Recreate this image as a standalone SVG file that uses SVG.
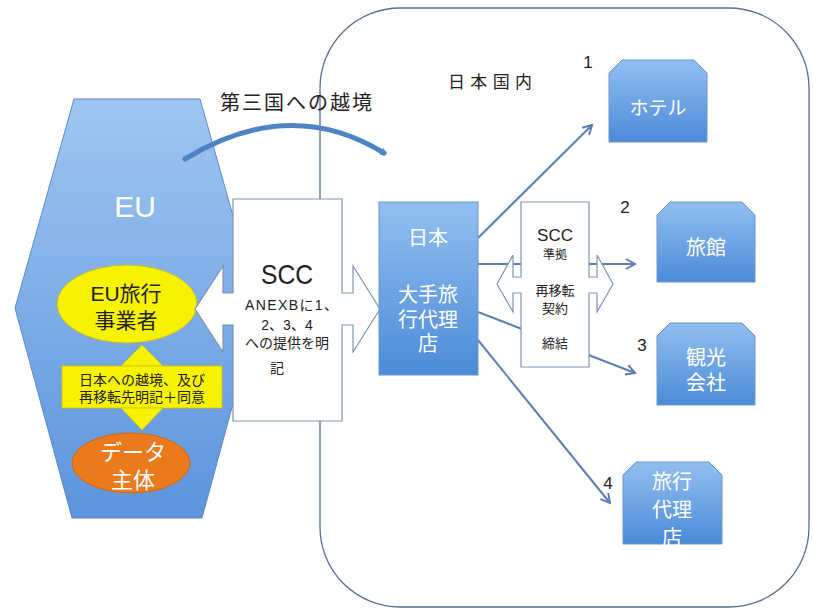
<svg xmlns="http://www.w3.org/2000/svg" width="813" height="612" viewBox="0 0 813 612">
<style>
text{font-family:'Liberation Sans','Noto Sans CJK JP',sans-serif;}
.w{fill:#ffffff;}
.k{fill:#222222;}
.m{text-anchor:middle;}
.node{stroke:#6a95cc;stroke-width:1;}
.conn{fill:none;stroke:#5b7fb0;stroke-width:2;}
.callout{fill:#ffffff;stroke:#8093b3;stroke-width:1.2;}
</style>
<defs>
<linearGradient id="gHex" x1="0" y1="0" x2="0" y2="1">
<stop offset="0" stop-color="#9fc6f2"/>
<stop offset="1" stop-color="#5c94dc"/>
</linearGradient>
<linearGradient id="gBox" x1="0" y1="0" x2="0" y2="1">
<stop offset="0" stop-color="#92bff0"/>
<stop offset="1" stop-color="#4c8bd8"/>
</linearGradient>
<marker id="arr" markerWidth="14" markerHeight="14" refX="11" refY="7" orient="auto" markerUnits="userSpaceOnUse">
<path d="M2,2 L11,7 L2,12" fill="none" stroke="#5b7fb0" stroke-width="2"/>
</marker>
<marker id="arrThick" markerWidth="8" markerHeight="8" refX="3" refY="4" orient="auto" markerUnits="userSpaceOnUse">
<path d="M0,0 L6,4 L0,8 Z" fill="#4f84c4"/>
</marker>
</defs>

<g id="japan-region">
<rect x="320" y="8" width="489" height="599" rx="80" ry="80" fill="none" stroke="#5a6f90" stroke-width="1.3"/>
<text class="k" x="448" y="88" font-size="17" textLength="84">日本国内</text>
</g>

<g id="eu">
<polygon points="74,99 200,99 259,308 202,518 72,518 15,308" fill="url(#gHex)" stroke="#5a8ac8" stroke-width="1"/>
<text class="w m" x="135" y="217" font-size="30">EU</text>
</g>

<g id="eu-operator">
<ellipse cx="127" cy="304" rx="70" ry="39" fill="#f7f200" stroke="#c9bd2a" stroke-width="1"/>
<text class="k m" x="126" y="301" font-size="21">EU旅行</text>
<text class="k m" x="126" y="328" font-size="21">事業者</text>
</g>

<g id="consent">
<polygon points="142,345 121,366 163,366" fill="#f7f200" stroke="#d4c400" stroke-width="0.8"/>
<rect x="62" y="366" width="160" height="42" fill="#f7f200" stroke="#d4c400" stroke-width="0.8"/>
<polygon points="121,408 163,408 142,430" fill="#f7f200" stroke="#d4c400" stroke-width="0.8"/>
<text class="k m" x="142" y="385" font-size="14">日本への越境、及び</text>
<text class="k m" x="142" y="402" font-size="14">再移転先明記＋同意</text>
</g>

<g id="data-subject">
<ellipse cx="131" cy="463" rx="59" ry="30" fill="#ea7a1c" stroke="#d06810" stroke-width="1"/>
<text class="w m" x="133" y="460" font-size="22">データ</text>
<text class="w m" x="133" y="488" font-size="22">主体</text>
</g>

<text class="k" x="220" y="110" font-size="20" textLength="152">第三国への越境</text>

<g id="connectors">
<path d="M185,159 Q290,95 384,153" fill="none" stroke="#4f84c4" stroke-width="5" stroke-linecap="round" marker-end="url(#arrThick)"/>
<line class="conn" x1="478" y1="238" x2="592" y2="125" marker-end="url(#arr)"/>
<line class="conn" x1="478" y1="264" x2="635" y2="264" marker-end="url(#arr)"/>
<line class="conn" x1="478" y1="312" x2="635" y2="373" marker-end="url(#arr)"/>
<line class="conn" x1="478" y1="340" x2="610" y2="503" marker-end="url(#arr)"/>
</g>

<g id="scc-main">
<path class="callout" d="M233,199 H342 V293 H353 V266 L380,309 L353,352 V325 H342 V421 H233 V325 H223 V352 L195,309 L223,266 V293 H233 Z"/>
<text class="k m" x="287" y="284" font-size="28" textLength="52" lengthAdjust="spacingAndGlyphs">SCC</text>
<text class="k" x="245" y="310" font-size="14" textLength="93">ANEXBに1、</text>
<text class="k m" x="287" y="330" font-size="14">2、3、4</text>
<text class="k m" x="287" y="348" font-size="14">への提供を明</text>
<text class="k m" x="277" y="373" font-size="14">記</text>
</g>

<g id="japan-agency">
<rect x="379" y="202" width="99" height="173" fill="url(#gBox)" class="node"/>
<text class="w m" x="428" y="245" font-size="20">日本</text>
<text class="w m" x="428" y="302" font-size="20">大手旅</text>
<text class="w m" x="428" y="327" font-size="20">行代理</text>
<text class="w m" x="428" y="351" font-size="20">店</text>
</g>

<g id="scc-onward">
<path class="callout" d="M521,202 H589 V277 H597 V255 L613,284 L597,312 V293 H589 V367 H521 V293 H513 V312 L497,284 L513,255 V277 H521 Z"/>
<text class="k m" x="555" y="241" font-size="17">SCC</text>
<text class="k m" x="555" y="259" font-size="12">準拠</text>
<text class="k m" x="555" y="295" font-size="13">再移転</text>
<text class="k m" x="555" y="313" font-size="13">契約</text>
<text class="k m" x="555" y="348" font-size="13">締結</text>
</g>

<g id="hotel">
<path class="node" fill="url(#gBox)" d="M622,60 H694 L707,73 V142 H609 V73 Z"/>
<text class="w m" x="658" y="115" font-size="19">ホテル</text>
<text class="k m" x="588" y="68" font-size="17">1</text>
</g>

<g id="ryokan">
<path class="node" fill="url(#gBox)" d="M670,202 H742 L755,215 V282 H657 V215 Z"/>
<text class="w m" x="706" y="255" font-size="20">旅館</text>
<text class="k m" x="625" y="213" font-size="17">2</text>
</g>

<g id="tourism">
<path class="node" fill="url(#gBox)" d="M670,323 H742 L755,336 V405 H657 V336 Z"/>
<text class="w m" x="706" y="365" font-size="20">観光</text>
<text class="w m" x="706" y="390" font-size="20">会社</text>
<text class="k m" x="642" y="351" font-size="17">3</text>
</g>

<g id="travel-agent">
<path class="node" fill="url(#gBox)" d="M636,462 H709 L722,475 V544 H623 V475 Z"/>
<text class="w m" x="672" y="489" font-size="20">旅行</text>
<text class="w m" x="672" y="517" font-size="20">代理</text>
<text class="w m" x="672" y="545" font-size="20">店</text>
<text class="k m" x="608" y="489" font-size="17">4</text>
</g>
</svg>
